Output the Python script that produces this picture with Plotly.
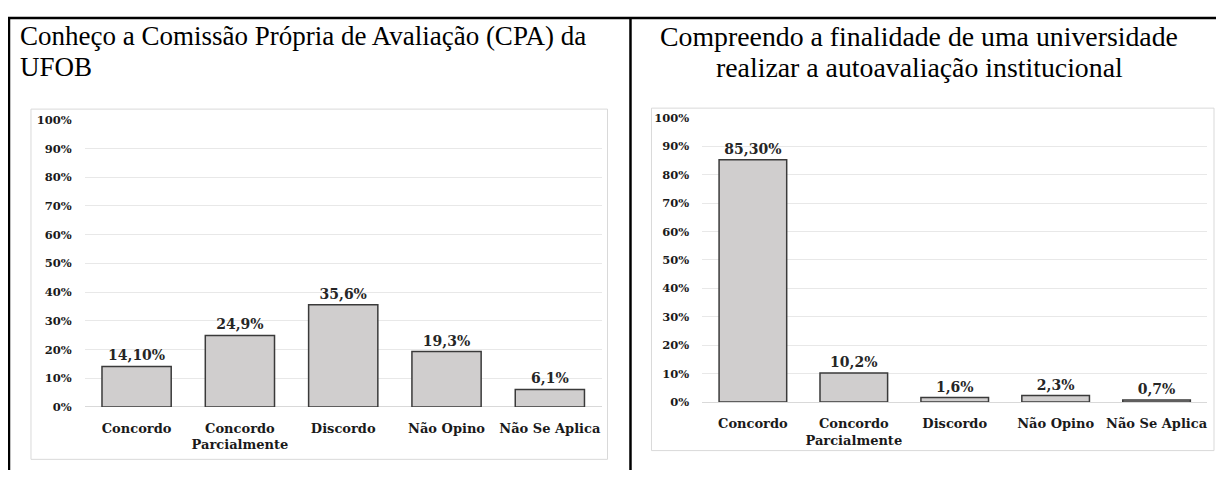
import plotly.graph_objects as go

# the page has an 8px body margin, so the figure starts at (8, 8) on screen;
# all positions below are written in screen pixels and shifted by OFF
OFF = 8
W, H = 1224 - OFF, 477 - OFF

categories = ["Concordo", "Concordo<br>Parcialmente", "Discordo", "Não Opino", "Não Se Aplica"]

left_title = ["Conheço a Comissão Própria de Avaliação (CPA) da", "UFOB"]
left_values = [14.1, 24.9, 35.6, 19.3, 6.1]
left_labels = ["14,10%", "24,9%", "35,6%", "19,3%", "6,1%"]

right_title = ["Compreendo a finalidade de uma universidade",
               "realizar a autoavaliação institucional"]
right_values = [85.3, 10.2, 1.6, 2.3, 0.7]
right_labels = ["85,30%", "10,2%", "1,6%", "2,3%", "0,7%"]

CHART_FONT = "DejaVu Serif"
TITLE_FONT = "Liberation Serif"
BAR_FILL = "#d0cece"
BAR_LINE = "#3a3a3a"
GRID = "#e8e8e8"


def px_x(x):
    return (x - OFF) / W


def px_y(y):
    return 1 - (y - OFF) / H


fig = go.Figure()

for i, (vals, labels) in enumerate(((left_values, left_labels),
                                    (right_values, right_labels)), start=1):
    fig.add_trace(go.Bar(
        x=categories,
        y=[v / 100 for v in vals],
        text=labels,
        textposition="outside",
        cliponaxis=False,
        textfont=dict(family=CHART_FONT, size=14, color="#262626", weight="bold"),
        marker=dict(color=BAR_FILL, line=dict(color=BAR_LINE, width=1.5)),
        xaxis="x" if i == 1 else f"x{i}",
        yaxis="y" if i == 1 else f"y{i}",
        showlegend=False,
    ))

axis_common_x = dict(
    showgrid=False, showline=False, zeroline=False,
    ticks="outside", ticklen=9, tickcolor="rgba(0,0,0,0)",
    tickfont=dict(family=CHART_FONT, size=13, color="#1a1a1a", weight="bold"),
)
axis_common_y = dict(
    range=[0, 1], dtick=0.1, tickformat=".0%",
    showgrid=True, gridcolor=GRID, gridwidth=1,
    zeroline=True, zerolinecolor="#d9d9d9", zerolinewidth=1,
    showline=False,
    ticks="outside", ticklen=10, tickcolor="rgba(0,0,0,0)",
    tickfont=dict(family=CHART_FONT, size=11.5, color="#1a1a1a", weight="bold"),
)

# left chart: plot area x 85..602, y 116 (100%) .. 412 (0%)
# right chart: plot area x 703..1208, y 114 (100%) .. 407 (0%)
fig.update_layout(
    width=W, height=H,
    margin=dict(l=0, r=0, t=0, b=0),
    paper_bgcolor="white", plot_bgcolor="white",
    bargap=0.33,
    xaxis=dict(domain=[px_x(85), px_x(602)], anchor="y", **axis_common_x),
    yaxis=dict(domain=[px_y(412), px_y(116)], anchor="x", **axis_common_y),
    xaxis2=dict(domain=[px_x(703), px_x(1208)], anchor="y2", **axis_common_x),
    yaxis2=dict(domain=[px_y(407), px_y(114)], anchor="x2", **axis_common_y),
)

# table borders
line_black = dict(color="black", width=2.5)
fig.add_shape(type="line", xref="paper", yref="paper",
              x0=0, x1=1, y0=px_y(11), y1=px_y(11), line=line_black)
fig.add_shape(type="line", xref="paper", yref="paper",
              x0=px_x(9), x1=px_x(9), y0=px_y(11), y1=0, line=line_black)
fig.add_shape(type="line", xref="paper", yref="paper",
              x0=px_x(631), x1=px_x(631), y0=px_y(11), y1=0, line=line_black)

# chart frames
frame = dict(color="#d9d9d9", width=1)
fig.add_shape(type="rect", xref="paper", yref="paper",
              x0=px_x(31), x1=px_x(608), y0=px_y(466), y1=px_y(105), line=frame)
fig.add_shape(type="rect", xref="paper", yref="paper",
              x0=px_x(652), x1=px_x(1215), y0=px_y(457), y1=px_y(104), line=frame)

# cell titles
for k, txt in enumerate(left_title):
    fig.add_annotation(text=txt, xref="paper", yref="paper",
                       x=px_x(18), y=px_y(30 + 32 * k),
                       xanchor="left", yanchor="middle", showarrow=False,
                       font=dict(family=TITLE_FONT, size=27, color="black"))
for k, txt in enumerate(right_title):
    fig.add_annotation(text=txt, xref="paper", yref="paper",
                       x=px_x(920), y=px_y(30 + 32 * k),
                       xanchor="center", yanchor="middle", showarrow=False,
                       font=dict(family=TITLE_FONT, size=27.8, color="black"))

fig.write_html("out.html")
